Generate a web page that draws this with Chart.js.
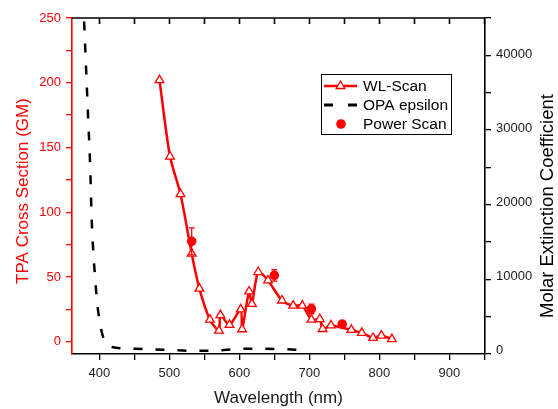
<!DOCTYPE html>
<html>
<head>
<meta charset="utf-8">
<script src="https://cdn.jsdelivr.net/npm/chart.js@4.4.0/dist/chart.umd.min.js"></script>
<style>
  html, body { margin: 0; padding: 0; background: #fff; }
  #wrap { width: 558px; height: 409px; }
</style>
</head>
<body>
<div id="wrap"><canvas id="tpaChart" width="558" height="409"></canvas></div>
<script>
// WL-Scan: TPA cross section (GM) vs wavelength (nm)
const wlWavelength = [486, 501, 516, 532, 543, 558, 571, 573, 586, 602, 604, 614, 618, 627, 641, 661, 677, 690, 703, 715, 719, 731, 760, 775, 791, 803, 818];
const wlSigma      = [202, 143, 114, 68, 41, 17, 8.5, 20.5, 13, 25, 9.6, 38.8, 29.2, 53.8, 47.3, 31.8, 27.9, 27.9, 17, 17.5, 9.8, 12.6, 9.1, 6.8, 2.9, 4.7, 2];

// Power Scan points with error bars
const psWavelength = [532, 650, 703, 747];
const psSigma      = [77.5, 51.2, 25.3, 13.6];
const psError      = [10.4, 4.4, 3.7, 1.5];

// OPA epsilon: molar extinction coefficient (right axis)
const opaWavelength = [377, 381, 384, 387, 389, 391.5, 394, 396.5, 401, 405, 410, 418, 437, 470, 500, 530, 560, 590, 620, 650, 680, 697];
const opaEpsilon    = [47500, 38400, 31600, 24800, 18100, 13100, 9900, 6800, 3600, 1900, 900, 400, 230, 100, 0, -100, -100, 100, 180, 150, 50, 0];

// tick labels
const xTickLabels = [400, 500, 600, 700, 800, 900];
const leftTickLabels = [0, 50, 100, 150, 200, 250];
const rightTickLabels = [0, 10000, 20000, 30000, 40000];

const legendLabels = ['WL-Scan', 'OPA epsilon', 'Power Scan'];
const leftTitle = 'TPA Cross Section (GM)';
const rightTitle = 'Molar Extinction Coefficient';
const bottomTitle = 'Wavelength (nm)';

const FONT = '"Liberation Sans", Arial, sans-serif';
Chart.defaults.font.family = FONT;

function pts(xs, ys) {
    return xs.map(function(x, i) { return { x: x, y: ys[i] }; });
}

function labelFrom(list) {
    return function(v) {
        const r = Math.round(v);
        return list.indexOf(r) >= 0 ? String(r) : '';
    };
}

const extras = {
    id: 'extras',
    afterDatasetDraw(chart, args) {
        if (args.index !== 1) return; // error bars go between WL-Scan and the dots
        const ctx = chart.ctx;
        const xs = chart.scales.x, ys = chart.scales.y;
        ctx.save();
        ctx.strokeStyle = '#ff0000';
        ctx.lineWidth = 1.3;
        psWavelength.forEach(function(w, i) {
            const px = xs.getPixelForValue(w);
            const top = ys.getPixelForValue(psSigma[i] + psError[i]);
            const bot = ys.getPixelForValue(psSigma[i] - psError[i]);
            ctx.beginPath();
            ctx.moveTo(px, top); ctx.lineTo(px, bot);
            ctx.moveTo(px - 3, top); ctx.lineTo(px + 3, top);
            ctx.moveTo(px - 3, bot); ctx.lineTo(px + 3, bot);
            ctx.stroke();
        });
        ctx.restore();
    },
    afterDraw(chart) {
        const ctx = chart.ctx;
        const area = chart.chartArea;
        const xs = chart.scales.x;
        const y2 = chart.scales.y2;
        ctx.save();

        // top axis with inward ticks
        ctx.strokeStyle = '#000';
        ctx.lineWidth = 1.6;
        ctx.beginPath();
        ctx.moveTo(area.left, area.top);
        ctx.lineTo(area.right, area.top);
        xs.ticks.forEach(function(t) {
            const px = Math.round(xs.getPixelForValue(t.value)) + 0.5;
            ctx.moveTo(px, area.top);
            ctx.lineTo(px, area.top + 6);
        });
        ctx.stroke();

        // right axis labels
        ctx.fillStyle = '#1a1a1a';
        ctx.font = '13px ' + FONT;
        ctx.textAlign = 'left';
        ctx.textBaseline = 'middle';
        rightTickLabels.forEach(function(v) {
            ctx.fillText(String(v), y2.left + 11, y2.getPixelForValue(v));
        });

        // vertical axis titles
        ctx.textAlign = 'center';
        ctx.save();
        ctx.translate(23, 191);
        ctx.rotate(-Math.PI / 2);
        ctx.fillStyle = '#ff0000';
        ctx.font = '17px ' + FONT;
        ctx.fillText(leftTitle, 0, 0);
        ctx.restore();
        ctx.save();
        ctx.translate(547.5, 206);
        ctx.rotate(-Math.PI / 2);
        ctx.fillStyle = '#000';
        ctx.font = '18.5px ' + FONT;
        ctx.fillText(rightTitle, 0, 0);
        ctx.restore();

        // legend box
        const lx = 321, ly = 74;
        ctx.fillStyle = '#fff';
        ctx.fillRect(lx, ly, 131, 61);
        ctx.strokeStyle = '#000';
        ctx.lineWidth = 1;
        ctx.strokeRect(lx + 0.5, ly + 0.5, 130, 60);

        const rows = [ly + 12, ly + 31, ly + 50];
        // WL-Scan
        ctx.strokeStyle = '#ff0000';
        ctx.lineWidth = 2.5;
        ctx.beginPath();
        ctx.moveTo(lx + 3, rows[0]); ctx.lineTo(lx + 36, rows[0]);
        ctx.stroke();
        ctx.fillStyle = '#fff';
        ctx.lineWidth = 1.3;
        Chart.helpers.drawPoint(ctx, { pointStyle: 'triangle', radius: 5, borderWidth: 1.3 }, lx + 19.5, rows[0]);
        // OPA epsilon
        ctx.strokeStyle = '#000';
        ctx.lineWidth = 2.8;
        ctx.beginPath();
        ctx.moveTo(lx + 3, rows[1]); ctx.lineTo(lx + 12, rows[1]);
        ctx.moveTo(lx + 27, rows[1]); ctx.lineTo(lx + 36, rows[1]);
        ctx.stroke();
        // Power Scan
        ctx.fillStyle = '#ff0000';
        ctx.beginPath();
        ctx.arc(lx + 20, rows[2], 4.8, 0, Math.PI * 2);
        ctx.fill();

        ctx.fillStyle = '#000';
        ctx.textAlign = 'left';
        ctx.font = '15.5px ' + FONT;
        legendLabels.forEach(function(txt, i) {
            ctx.fillText(txt, lx + 42, rows[i] + 1);
        });
        ctx.restore();
    }
};

new Chart(document.getElementById('tpaChart'), {
    type: 'line',
    data: {
        datasets: [{
            label: 'Power Scan',
            data: pts(psWavelength, psSigma),
            yAxisID: 'y',
            showLine: false,
            pointStyle: 'circle',
            pointRadius: 4.8,
            pointBackgroundColor: '#ff0000',
            pointBorderColor: '#ff0000',
            pointBorderWidth: 0
        }, {
            label: 'WL-Scan',
            data: pts(wlWavelength, wlSigma),
            yAxisID: 'y',
            borderColor: '#ff0000',
            borderWidth: 2.5,
            tension: 0.25,
            pointStyle: 'triangle',
            pointRadius: 5,
            pointBackgroundColor: '#fff',
            pointBorderColor: '#ff0000',
            pointBorderWidth: 1.3
        }, {
            label: 'OPA epsilon',
            data: pts(opaWavelength, opaEpsilon),
            yAxisID: 'y2',
            borderColor: '#000',
            borderWidth: 2.5,
            borderDash: [9, 13],
            cubicInterpolationMode: 'monotone',
            pointRadius: 0
        }]
    },
    options: {
        responsive: false,
        animation: false,
        events: [],
        layout: { padding: { top: 18, left: 0, right: 0, bottom: 0 } },
        plugins: {
            legend: { display: false },
            tooltip: { enabled: false }
        },
        scales: {
            x: {
                type: 'linear',
                position: 'bottom',
                min: 361,
                max: 951,
                afterFit: function(s) { s.height = 55; },
                grid: { display: true, drawOnChartArea: false, tickLength: 6, color: '#000', lineWidth: 1.3 },
                border: { display: true, color: '#000', width: 1.6 },
                ticks: {
                    stepSize: 50,
                    includeBounds: false,
                    autoSkip: false,
                    maxRotation: 0,
                    padding: 6,
                    color: '#1a1a1a',
                    font: { size: 13 },
                    callback: labelFrom(xTickLabels)
                },
                title: {
                    display: true,
                    text: bottomTitle,
                    color: '#1a1a1a',
                    font: { size: 17 },
                    padding: { top: 0, bottom: 0 }
                }
            },
            y: {
                type: 'linear',
                position: 'left',
                min: -9.5,
                max: 250,
                afterFit: function(s) { s.width = 72; },
                grid: { display: true, drawOnChartArea: false, tickLength: 6, color: '#ff0000', lineWidth: 1.3 },
                border: { display: true, color: '#ff0000', width: 1.6 },
                ticks: {
                    stepSize: 25,
                    includeBounds: false,
                    autoSkip: false,
                    padding: 5,
                    color: '#ff0000',
                    font: { size: 13 },
                    callback: labelFrom(leftTickLabels)
                }
            },
            y2: {
                type: 'linear',
                position: 'right',
                min: -540,
                max: 45000,
                afterFit: function(s) { s.width = 73; },
                grid: { display: true, drawOnChartArea: false, tickLength: 6, color: '#000', lineWidth: 1.3 },
                border: { display: true, color: '#000', width: 1.6 },
                ticks: {
                    stepSize: 5000,
                    includeBounds: false,
                    autoSkip: false,
                    callback: function() { return ''; } // labels drawn in the plugin
                }
            }
        }
    },
    plugins: [extras]
});
</script>
</body>
</html>
